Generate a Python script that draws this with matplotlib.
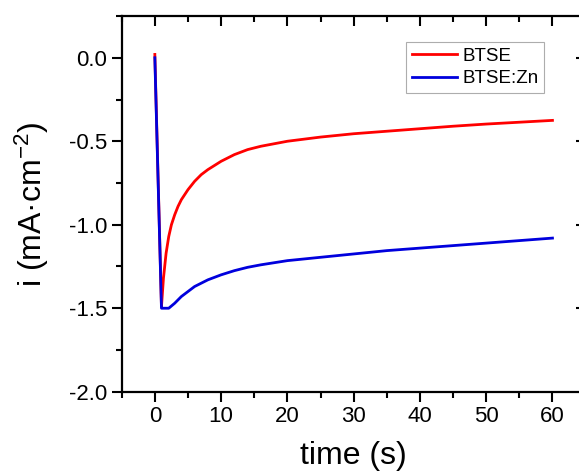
import matplotlib
matplotlib.use('Agg')
import matplotlib.pyplot as plt
from matplotlib.markers import TICKDOWN, TICKLEFT
from matplotlib.ticker import MultipleLocator, FormatStrFormatter
import numpy as np

plt.rcParams['font.family'] = ['Liberation Sans', 'DejaVu Sans']
plt.rcParams['mathtext.fontset'] = 'custom'
plt.rcParams['mathtext.rm'] = 'Liberation Sans'
plt.rcParams['mathtext.it'] = 'Liberation Sans:italic'
plt.rcParams['axes.unicode_minus'] = False
plt.rcParams['savefig.bbox'] = None

# chronoamperometry transients
t_btse = [0, 1.0, 1.3, 1.7, 2.1, 2.5, 3.0, 3.5, 4.0, 5.0, 6.0, 7.0, 8.0, 10, 12, 14,
          16, 20, 25, 30, 35, 40, 45, 50, 55, 60]
i_btse = [0.02, -1.49, -1.32, -1.17, -1.07, -1.00, -0.94, -0.89, -0.85, -0.79, -0.74,
          -0.70, -0.67, -0.62, -0.58, -0.55, -0.53, -0.50, -0.475, -0.455, -0.44,
          -0.425, -0.41, -0.397, -0.386, -0.375]

t_zn = [0, 1.0, 2.1, 3.0, 4.0, 5.0, 6.0, 7.0, 8.0, 10, 12, 14, 16, 20, 25, 30, 35,
        40, 45, 50, 55, 60]
i_zn = [0.0, -1.50, -1.50, -1.47, -1.43, -1.40, -1.37, -1.35, -1.33, -1.30, -1.275,
        -1.255, -1.24, -1.215, -1.195, -1.175, -1.155, -1.14, -1.125, -1.11, -1.095,
        -1.08]

fig = plt.figure(figsize=(5.79, 4.74), dpi=100)
ax = fig.add_axes([0.2102, 0.1736, 0.8012, 0.7926])

ax.plot(t_btse, i_btse, color='#ff0000', lw=2, label='BTSE')
ax.plot(t_zn, i_zn, color='#0000dd', lw=2, label='BTSE:Zn')

ax.set_xlim(-5, 65)
ax.set_ylim(-2.0, 0.25)
ax.xaxis.set_major_locator(MultipleLocator(10))
ax.xaxis.set_minor_locator(MultipleLocator(5))
ax.yaxis.set_major_locator(MultipleLocator(0.5))
ax.yaxis.set_minor_locator(MultipleLocator(0.25))
ax.yaxis.set_major_formatter(FormatStrFormatter('%.1f'))

for s in ax.spines.values():
    s.set_linewidth(1.6)
# right frame edge falls past the canvas, only tick tips show
ax.spines['right'].set_visible(False)

ax.tick_params(which='major', direction='out', length=7, width=1.5, labelsize=16)
ax.tick_params(which='minor', direction='out', length=4, width=1.5)

# inward ticks on the top and right edges
tx = ax.get_xaxis_transform()
ty = ax.get_yaxis_transform()
for xt, size in ((np.arange(0, 61, 10), 7), (np.arange(-5, 66, 10), 4)):
    ax.plot(xt, np.ones_like(xt), ls='none', marker=TICKDOWN, ms=size, mew=1.5,
            color='k', transform=tx, clip_on=False)
yt = np.arange(-1.5, 0.01, 0.5)
ax.plot(np.ones_like(yt), yt, ls='none', marker=TICKLEFT, ms=7, mew=1.5,
        color='k', transform=ty, clip_on=False)

ax.set_xlabel('time (s)', fontsize=23, labelpad=10)
ax.set_ylabel('i (mA·cm$^{-2}$)', fontsize=23, labelpad=13)

leg = ax.legend(loc='upper left', bbox_to_anchor=(0.613, 0.931), fontsize=13.5,
                frameon=True, fancybox=False, handlelength=2.4, handletextpad=0.3,
                borderpad=0.3, labelspacing=0.3, borderaxespad=0)
leg.get_frame().set_edgecolor('#999999')
leg.get_frame().set_linewidth(0.8)

fig.savefig('out.png', dpi=100, bbox_inches=None)
